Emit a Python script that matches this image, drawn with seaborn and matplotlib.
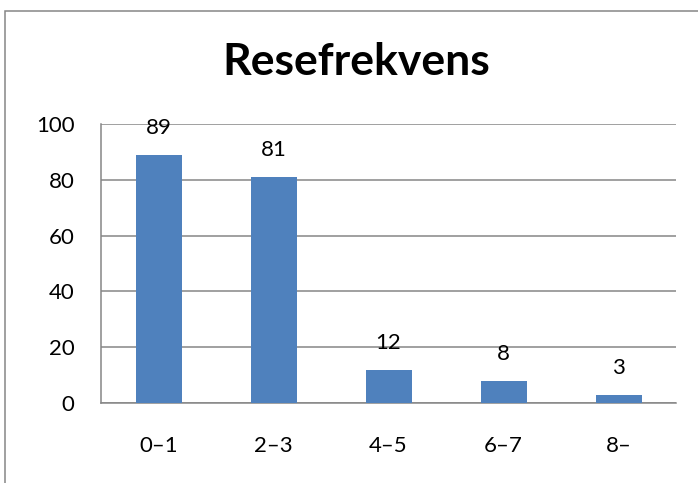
import matplotlib
matplotlib.use("Agg")
import matplotlib.pyplot as plt
import seaborn as sns
import pandas as pd
from matplotlib.patches import Rectangle

categories = ["0–1", "2–3", "4–5", "6–7", "8–"]
values = [89, 81, 12, 8, 3]

df = pd.DataFrame({"kategori": categories, "antal": values})

sns.set_theme(style="white")
plt.rcParams["font.family"] = ["Lato", "DejaVu Sans"]

fig = plt.figure(figsize=(6.98, 4.83), dpi=100)
ax = fig.add_axes([101 / 698, 1 - 403 / 483, 575 / 698, 279 / 483])

sns.barplot(data=df, x="kategori", y="antal", ax=ax, color="#4F81BD",
            saturation=1, width=0.4, linewidth=0, zorder=3)

ax.set_ylim(0, 100)
ax.set_yticks(range(0, 101, 20))
ax.set_xlim(-0.5, len(categories) - 0.5)
ax.yaxis.grid(True, color="#868686", linewidth=1.1, zorder=0)
ax.set_axisbelow(True)
for side in ["top", "right"]:
    ax.spines[side].set_visible(False)
for side in ["left", "bottom"]:
    ax.spines[side].set_color("#868686")
    ax.spines[side].set_linewidth(1.1)
ax.tick_params(axis="both", length=0, labelsize=16, colors="black")
ax.tick_params(axis="y", pad=19)
ax.tick_params(axis="x", pad=24)
ax.set_xlabel("")
ax.set_ylabel("")

ax.bar_label(ax.containers[0], padding=12, fontsize=16, color="black")

fig.text(0.511, 1 - 62 / 483, "Resefrekvens", ha="center", va="center",
         fontsize=32, fontweight="bold", color="black")

fig.patches.append(Rectangle((5 / 698, -0.1), 1.2, 1.1 - 11 / 483,
                             transform=fig.transFigure, fill=False,
                             edgecolor="#868686", linewidth=1.1))

fig.savefig("out.png", dpi=100)
